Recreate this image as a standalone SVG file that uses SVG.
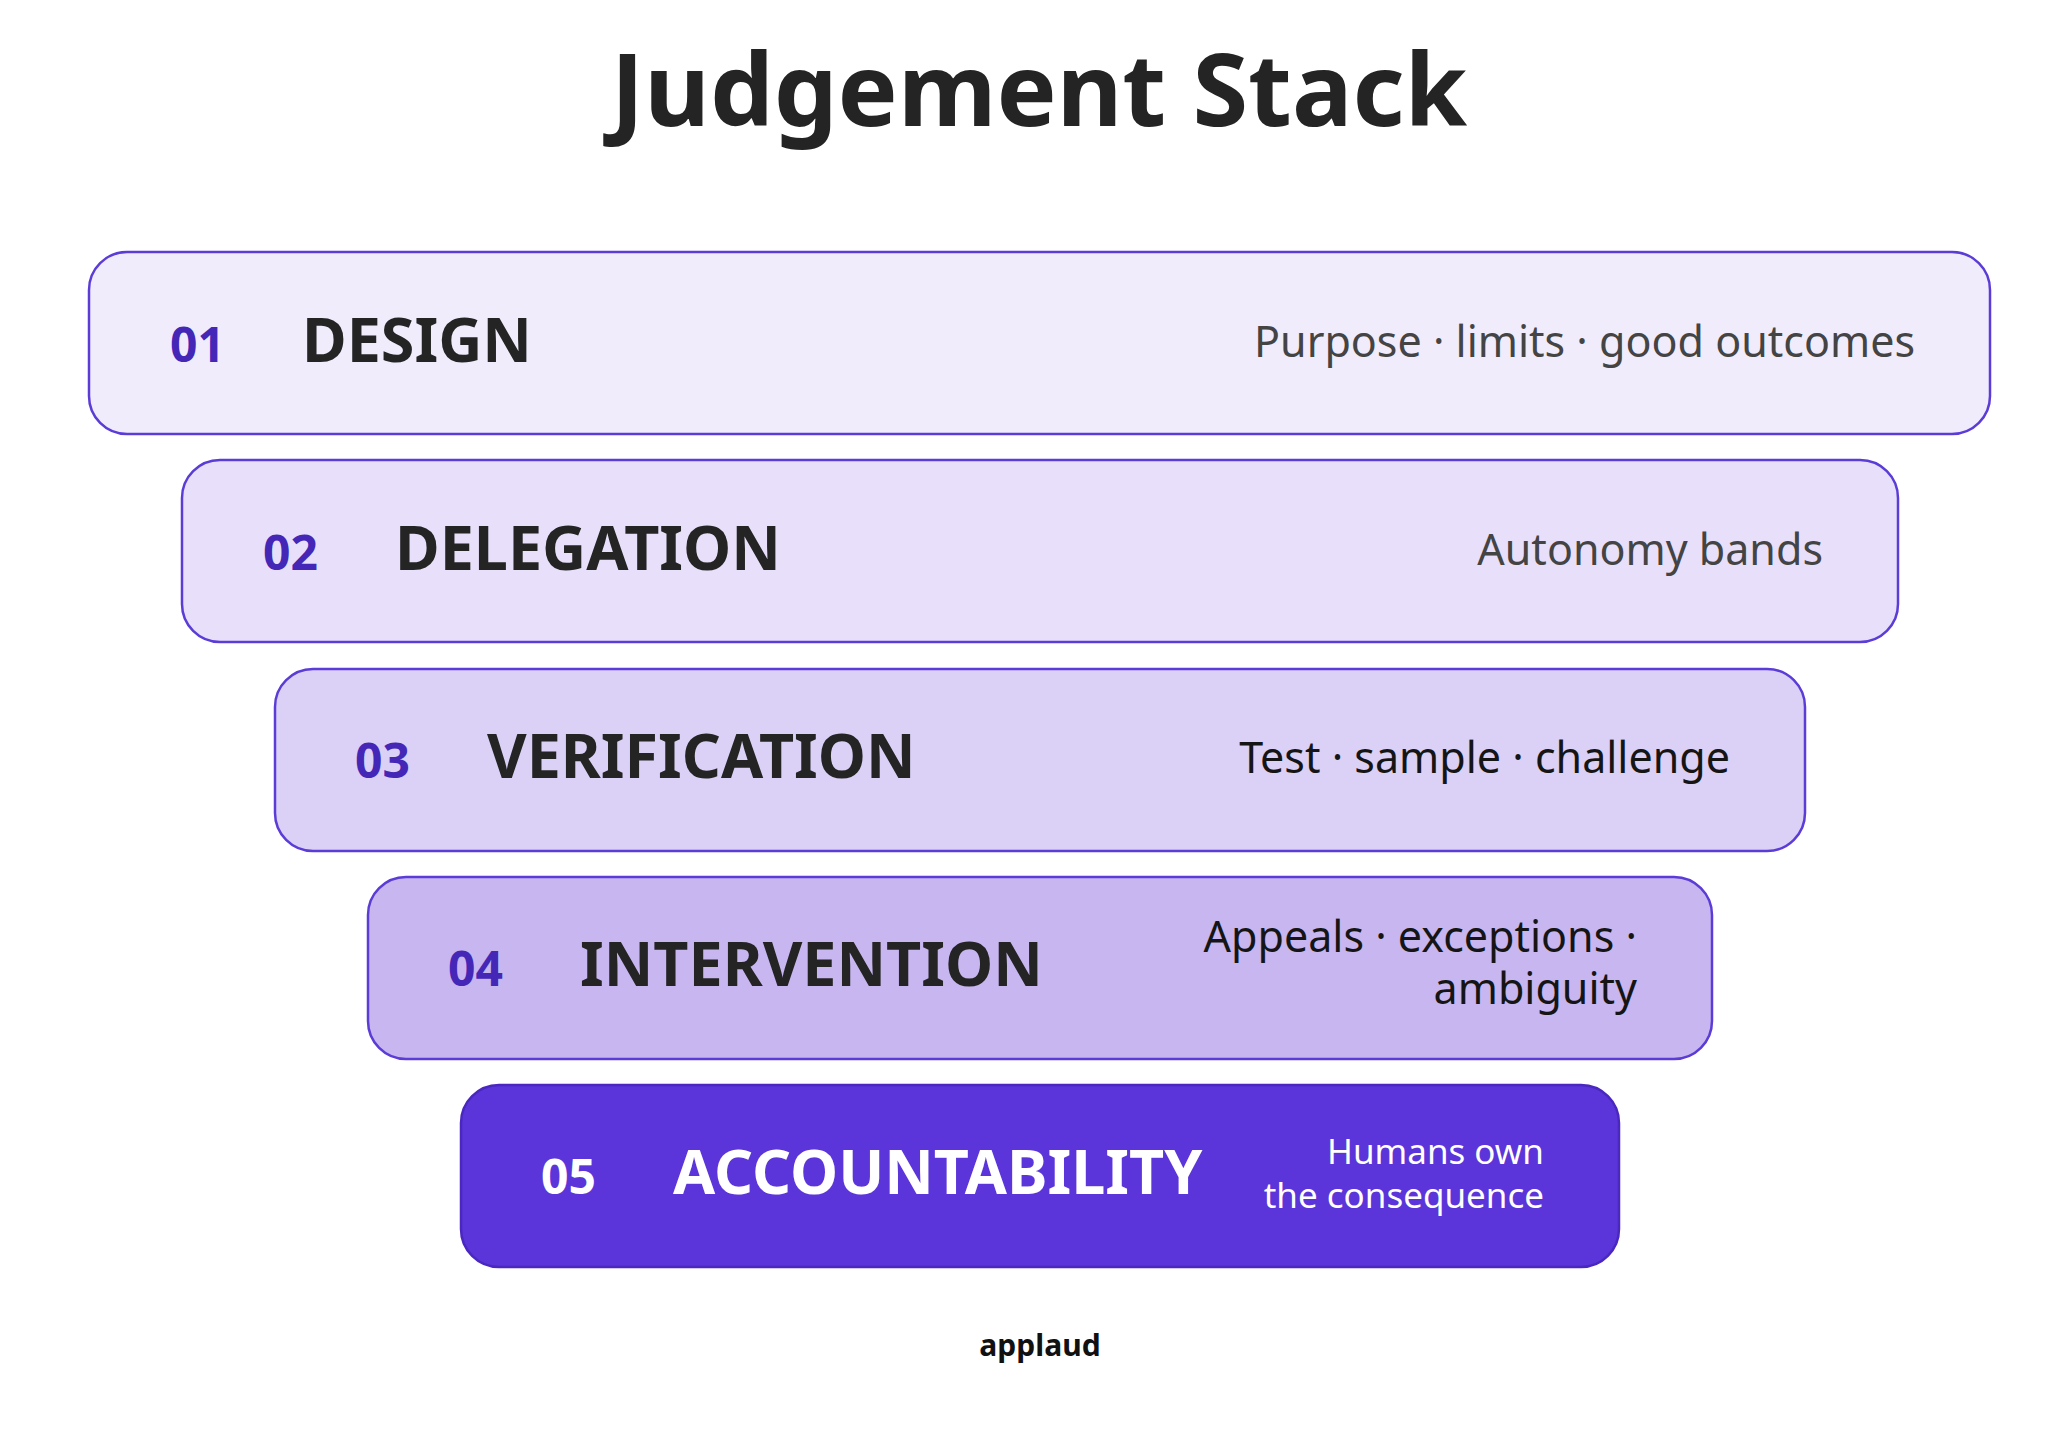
<svg xmlns="http://www.w3.org/2000/svg" width="2048" height="1434" viewBox="0 0 2048 1434">
<style>
.box{stroke:#5B3CD6;stroke-width:2.5}
.num{font-family:"Noto Sans",sans-serif;font-weight:700;font-size:48px;fill:#4527B8}
.ttl{font-family:"Noto Sans",sans-serif;font-weight:700;font-size:61px;fill:#242424}
.dsc{font-family:"Noto Sans",sans-serif;font-size:43px;fill:#444;text-anchor:end}
</style>
<rect width="2048" height="1434" fill="#fff"/>
<text x="1039" y="126" text-anchor="middle" font-family="Noto Sans, sans-serif" font-weight="700" font-size="101" fill="#242424">Judgement Stack</text>
<g id="n1"><rect class="box" x="89" y="252" width="1901" height="182" rx="38" fill="#F0ECFC"/>
<text class="num" x="170" y="362">01</text><text class="ttl" x="302" y="362">DESIGN</text>
<text class="dsc" x="1915" y="357">Purpose · limits · good outcomes</text></g>
<g id="n2"><rect class="box" x="182" y="460" width="1716" height="182" rx="38" fill="#E8E0FA"/>
<text class="num" x="263" y="570">02</text><text class="ttl" x="395" y="570">DELEGATION</text>
<text class="dsc" x="1823" y="565">Autonomy bands</text></g>
<g id="n3"><rect class="box" x="275" y="669" width="1530" height="182" rx="38" fill="#DBD0F6"/>
<text class="num" x="355" y="778">03</text><text class="ttl" x="487" y="778">VERIFICATION</text>
<text class="dsc" x="1730" y="773" style="fill:#151515">Test · sample · challenge</text></g>
<g id="n4"><rect class="box" x="368" y="877" width="1344" height="182" rx="38" fill="#C8B6F0"/>
<text class="num" x="448" y="986">04</text><text class="ttl" x="580" y="986">INTERVENTION</text>
<text class="dsc" style="fill:#151515" x="1637" y="952">Appeals · exceptions ·</text>
<text class="dsc" style="fill:#151515" x="1637" y="1004">ambiguity</text></g>
<g id="n5"><rect class="box" x="461" y="1085" width="1158" height="182" rx="38" fill="#5B35D9" style="stroke:#4A28C0"/>
<text class="num" x="541" y="1194" style="fill:#fff">05</text><text class="ttl" x="673" y="1194" style="fill:#fff">ACCOUNTABILITY</text>
<text class="dsc" style="fill:#fff;font-size:35px" x="1544" y="1164">Humans own</text>
<text class="dsc" style="fill:#fff;font-size:35px" x="1544" y="1208">the consequence</text></g>
<g id="connectors"/>
<text x="1040" y="1356" text-anchor="middle" font-family="Noto Sans, sans-serif" font-weight="700" font-size="30" fill="#111">applaud</text>
</svg>
